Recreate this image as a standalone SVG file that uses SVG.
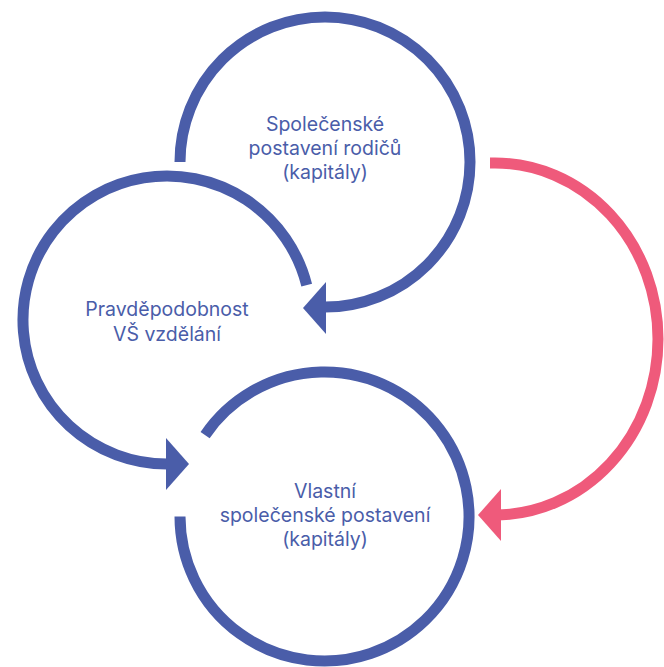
<svg xmlns="http://www.w3.org/2000/svg" xmlns:xlink="http://www.w3.org/1999/xlink" width="664" height="667" viewBox="0 0 664 667">
  <style>
    .ring { fill: none; stroke: #4a5da9; stroke-width: 11; stroke-linecap: butt; }
    .link { fill: none; stroke: #ef5a7b; stroke-width: 11; stroke-linecap: butt; }
    .head-blue { fill: #4a5da9; }
    .head-pink { fill: #ef5a7b; }
    .label { font-family: Inter, "Open Sans", "Liberation Sans", sans-serif; font-size: 19.5px; fill: #4a5da9; text-anchor: middle; }
  </style>
  <defs>
    <!-- arrowhead pointing right, base on the local y axis -->
    <path id="head" d="M0,-26 L23,0 L0,26 Z"/>
  </defs>
  <rect width="664" height="667" fill="#ffffff"/>

  <g id="node-parents">
    <path class="ring" d="M180,162 A145,145 0 1 1 325,307"/>
    <text class="label" x="325" y="131">Společenské</text>
    <text class="label" x="325" y="155">postavení rodičů</text>
    <text class="label" x="325" y="178.5">(kapitály)</text>
  </g>

  <g id="node-university">
    <path class="ring" d="M306.7,285.2 A144,144 0 1 0 167,464"/>
    <text class="label" x="167" y="316">Pravděpodobnost</text>
    <text class="label" x="167" y="341">VŠ vzdělání</text>
  </g>

  <g id="node-own">
    <path class="ring" d="M180,516.5 A144.5,144.5 0 1 0 205.1,435.1"/>
    <text class="label" x="325" y="497.5">Vlastní</text>
    <text class="label" x="325" y="521.5">společenské postavení</text>
    <text class="label" x="325" y="545.5">(kapitály)</text>
  </g>

  <g id="connectors">
    <!-- parents -> university -->
    <use xlink:href="#head" class="head-blue" transform="translate(326,308) scale(-1,1)"/>
    <!-- university -> own -->
    <use xlink:href="#head" class="head-blue" transform="translate(166,464)"/>
    <!-- parents -> own (direct) -->
    <path class="link" d="M490,163 H495 A163,176 0 0 1 495,515"/>
    <use xlink:href="#head" class="head-pink" transform="translate(501,515) scale(-1,1)"/>
  </g>
</svg>
